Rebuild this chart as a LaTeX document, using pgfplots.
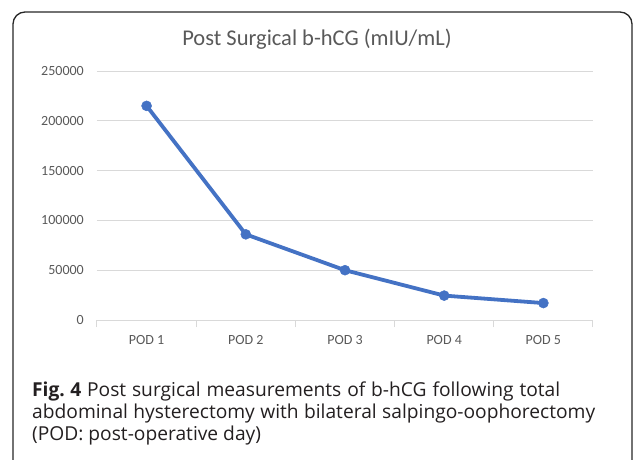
\documentclass[border=0pt]{standalone}
\usepackage{fontspec}
\setmainfont{Carlito}
\newfontfamily\capfont{Open Sans}
\usepackage{pgfplots}
\pgfplotsset{compat=1.18}
\definecolor{xlblue}{HTML}{4472C4}
\definecolor{txtgray}{HTML}{595959}
\definecolor{gridgray}{HTML}{D9D9D9}
\definecolor{capblack}{HTML}{231F20}
\begin{document}
\begin{tikzpicture}[x=1pt,y=1pt]
\path[use as bounding box] (0,0) rectangle (633,459);
\begin{scope}
\clip (0,0) rectangle (633,459);
\draw[line width=1.3pt, color=black!85, rounded corners=12pt] (13,-30) -- (13,447) -- (632,447) -- (632,-30);
\end{scope}
\node[font=\fontsize{22.5}{26}\selectfont, text=txtgray] at (317,420) {Post Surgical b-hCG (mIU/mL)};
\begin{axis}[
  at={(97pt,139pt)}, anchor=south west,
  scale only axis, width=496pt, height=249pt,
  xmin=0.5, xmax=5.5, ymin=0, ymax=250000,
  xtick={1,2,3,4,5},
  xticklabels={POD 1,POD 2,POD 3,POD 4,POD 5},
  minor xtick={0.5,1.5,2.5,3.5,4.5,5.5},
  major tick length=0pt,
  minor tick length=7pt,
  minor tick style={gridgray, line width=1pt},
  ytick={0,50000,100000,150000,200000,250000},
  yticklabels={0,50000,100000,150000,200000,250000},
  scaled y ticks=false,
  tick align=outside,
  xtick pos=bottom, ytick pos=left,
  ymajorgrids, grid style={gridgray, line width=1pt},
  axis line style={draw=none},
  ticklabel style={font=\fontsize{14}{16}\selectfont, text=txtgray, inner sep=0pt},
  yticklabel style={anchor=east, xshift=-13pt},
  xticklabel style={anchor=north, yshift=-15pt},
]
\addplot[color=xlblue, line width=3.8pt, mark=*, mark size=5pt, mark options={solid, fill=xlblue, draw=xlblue, line width=0.5pt}]
  coordinates {(1,215000) (2,86000) (3,50000) (4,24500) (5,17000)};
\end{axis}
\begin{scope}[text=capblack]
\node[anchor=base west, inner sep=0pt, font=\capfont\fontsize{19.2}{22}\selectfont] at (32,63) {\makebox[528pt][s]{\textbf{Fig.\hspace{0.28em}4} Post surgical measurements of b-hCG following total}};
\node[anchor=base west, inner sep=0pt, font=\capfont\fontsize{19.2}{22}\selectfont] at (32,41) {\makebox[563pt][s]{abdominal hysterectomy with bilateral salpingo-oophorectomy}};
\node[anchor=base west, inner sep=0pt, font=\capfont\fontsize{19.2}{22}\selectfont] at (32,19) {(POD: post-operative day)};
\end{scope}
\end{tikzpicture}
\end{document}
